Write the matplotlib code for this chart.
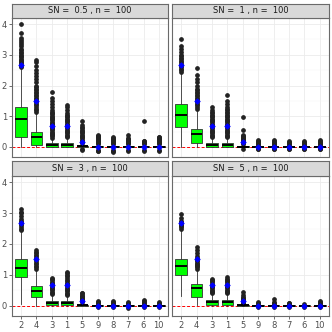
import matplotlib
matplotlib.use("Agg")
import matplotlib.pyplot as plt
from matplotlib.ticker import MultipleLocator

categories = ["2", "4", "3", "1", "5", "9", "8", "7", "6", "10"]
true_values = [2.67, 1.5, 0.67, 0.67, 0.17, 0, 0, 0, 0, 0]
panel_titles = ["SN =  0.5 , n =  100", "SN =  1 , n =  100",
                "SN =  3 , n =  100", "SN =  5 , n =  100"]

# box stats per panel: (q1, median, q3, whisker_low, whisker_high)
stats_sn05 = [(0.32, 0.91, 1.31, 0.0, 2.55), (0.05, 0.33, 0.48, 0.0, 1.1),
              (0.0, 0.05, 0.12, 0.0, 0.28), (0.0, 0.06, 0.13, 0.0, 0.30),
              (-0.01, 0.02, 0.04, -0.05, 0.10), (-0.02, 0.0, 0.02, -0.07, 0.08),
              (-0.02, 0.0, 0.02, -0.07, 0.08), (-0.02, 0.0, 0.02, -0.07, 0.08),
              (-0.02, 0.0, 0.02, -0.06, 0.07), (-0.02, 0.0, 0.02, -0.07, 0.08)]
stats_sn1 = [(0.64, 1.05, 1.40, 0.0, 2.4), (0.12, 0.41, 0.57, 0.0, 1.2),
             (0.0, 0.07, 0.12, 0.0, 0.30), (0.0, 0.07, 0.12, 0.0, 0.30),
             (-0.01, 0.01, 0.03, -0.04, 0.08), (-0.01, 0.0, 0.01, -0.04, 0.05),
             (-0.01, 0.0, 0.01, -0.04, 0.05), (-0.01, 0.0, 0.01, -0.04, 0.05),
             (-0.01, 0.0, 0.01, -0.04, 0.05), (-0.01, 0.0, 0.01, -0.04, 0.05)]
stats_sn3 = [(0.92, 1.23, 1.51, 0.05, 2.4), (0.29, 0.49, 0.65, 0.0, 1.15),
             (0.02, 0.10, 0.16, 0.0, 0.36), (0.02, 0.09, 0.14, 0.0, 0.33),
             (0.0, 0.02, 0.04, -0.02, 0.10), (-0.01, 0.0, 0.01, -0.03, 0.04),
             (-0.01, 0.0, 0.01, -0.03, 0.04), (-0.01, 0.0, 0.01, -0.03, 0.04),
             (-0.01, 0.0, 0.01, -0.03, 0.04), (-0.01, 0.0, 0.01, -0.03, 0.04)]
stats_sn5 = [(1.0, 1.29, 1.51, 0.31, 2.45), (0.30, 0.56, 0.69, 0.02, 1.15),
             (0.04, 0.12, 0.18, 0.0, 0.38), (0.04, 0.12, 0.18, 0.0, 0.38),
             (0.0, 0.01, 0.02, -0.01, 0.05), (-0.01, 0.0, 0.01, -0.02, 0.03),
             (-0.01, 0.0, 0.01, -0.02, 0.03), (-0.01, 0.0, 0.01, -0.02, 0.03),
             (-0.01, 0.0, 0.01, -0.02, 0.03), (-0.01, 0.0, 0.01, -0.02, 0.03)]

# outliers per box
fliers_sn05 = [
    [2.6, 2.64, 2.68, 2.72, 2.76, 2.8, 2.84, 2.88, 2.92, 2.96, 3.0, 3.05, 3.1, 3.15, 3.2, 3.28, 3.35, 3.42, 3.48, 3.55, 3.72, 4.02],
    [1.15, 1.2, 1.25, 1.3, 1.35, 1.4, 1.45, 1.5, 1.55, 1.6, 1.65, 1.7, 1.75, 1.8, 1.85, 1.9, 1.95, 2.0, 2.1, 2.2, 2.3, 2.4, 2.5, 2.65, 2.75, 2.83],
    [0.3, 0.34, 0.38, 0.42, 0.46, 0.5, 0.54, 0.58, 0.62, 0.66, 0.7, 0.74, 0.78, 0.82, 0.86, 0.9, 0.94, 0.98, 1.02, 1.06, 1.1, 1.15, 1.2, 1.3, 1.4, 1.5, 1.6, 1.78],
    [0.32, 0.36, 0.4, 0.44, 0.48, 0.52, 0.56, 0.6, 0.64, 0.68, 0.72, 0.76, 0.8, 0.84, 0.88, 0.92, 0.96, 1.0, 1.05, 1.1, 1.2, 1.3, 1.36],
    [-0.08, -0.1, 0.12, 0.16, 0.2, 0.24, 0.28, 0.32, 0.36, 0.4, 0.44, 0.48, 0.52, 0.56, 0.6, 0.64, 0.7, 0.85],
    [-0.1, -0.13, -0.15, 0.1, 0.13, 0.16, 0.19, 0.22, 0.25, 0.28, 0.31, 0.34, 0.37, 0.4],
    [-0.1, -0.13, -0.16, 0.1, 0.13, 0.16, 0.19, 0.22, 0.25, 0.28, 0.32],
    [-0.1, -0.13, 0.1, 0.13, 0.16, 0.19, 0.22, 0.25, 0.3, 0.38],
    [-0.09, -0.12, 0.09, 0.12, 0.15, 0.18, 0.2, 0.84],
    [-0.1, -0.13, 0.1, 0.13, 0.16, 0.19, 0.22, 0.25, 0.28, 0.31, 0.33],
]
fliers_sn1 = [
    [2.45, 2.5, 2.55, 2.6, 2.65, 2.7, 2.75, 2.8, 2.85, 2.9, 2.95, 3.0, 3.1, 3.2, 3.3, 3.51],
    [1.25, 1.3, 1.35, 1.4, 1.45, 1.5, 1.55, 1.6, 1.65, 1.7, 1.75, 1.8, 1.85, 1.9, 2.0, 2.1, 2.2, 2.35, 2.56],
    [0.32, 0.36, 0.4, 0.44, 0.48, 0.52, 0.56, 0.6, 0.64, 0.68, 0.72, 0.76, 0.8, 0.84, 0.88, 0.92, 0.96, 1.0, 1.05, 1.1, 1.15, 1.2, 1.31],
    [0.32, 0.36, 0.4, 0.44, 0.48, 0.52, 0.56, 0.6, 0.64, 0.68, 0.72, 0.76, 0.8, 0.84, 0.88, 0.92, 0.96, 1.0, 1.05, 1.1, 1.15, 1.2, 1.25, 1.3, 1.4, 1.5, 1.69],
    [-0.06, 0.1, 0.13, 0.16, 0.19, 0.22, 0.25, 0.28, 0.31, 0.35, 0.4, 0.55, 0.96],
    [-0.06, -0.08, 0.07, 0.1, 0.13, 0.16, 0.19, 0.22],
    [-0.06, -0.08, 0.07, 0.1, 0.13, 0.16, 0.19, 0.22],
    [-0.06, -0.08, 0.07, 0.1, 0.13, 0.16, 0.2],
    [-0.06, -0.08, 0.07, 0.1, 0.13, 0.16, 0.19],
    [-0.06, -0.08, 0.07, 0.1, 0.13, 0.16, 0.19, 0.23],
]
fliers_sn3 = [
    [2.45, 2.5, 2.55, 2.6, 2.65, 2.7, 2.75, 2.8, 2.9, 3.0, 3.05, 3.13],
    [1.2, 1.25, 1.3, 1.35, 1.4, 1.45, 1.5, 1.55, 1.6, 1.65, 1.7, 1.75, 1.8],
    [0.38, 0.42, 0.46, 0.5, 0.54, 0.58, 0.62, 0.66, 0.7, 0.74, 0.78, 0.82, 0.86, 0.89],
    [0.35, 0.39, 0.43, 0.47, 0.51, 0.55, 0.59, 0.63, 0.67, 0.71, 0.75, 0.8, 0.85, 0.9, 0.95, 1.0, 1.05, 1.1],
    [0.12, 0.15, 0.18, 0.21, 0.24, 0.27, 0.3, 0.33, 0.36, 0.4, 0.43],
    [-0.05, 0.06, 0.09, 0.12, 0.15],
    [-0.05, 0.06, 0.09, 0.12, 0.15],
    [-0.06, 0.06, 0.09, 0.12],
    [-0.04, 0.06, 0.09, 0.12, 0.15, 0.18],
    [-0.04, 0.06, 0.09, 0.12],
]
fliers_sn5 = [
    [2.5, 2.54, 2.58, 2.62, 2.66, 2.7, 2.75, 2.85, 2.96],
    [1.2, 1.24, 1.28, 1.32, 1.36, 1.4, 1.44, 1.48, 1.52, 1.56, 1.6, 1.7, 1.8, 1.89],
    [0.4, 0.44, 0.48, 0.52, 0.56, 0.6, 0.64, 0.68, 0.72, 0.76, 0.8, 0.84, 0.88],
    [0.4, 0.44, 0.48, 0.52, 0.56, 0.6, 0.64, 0.68, 0.72, 0.76, 0.8, 0.84, 0.88, 0.92],
    [0.07, 0.1, 0.13, 0.16, 0.19, 0.22, 0.25, 0.3, 0.35, 0.45],
    [-0.04, 0.05, 0.08, 0.11],
    [-0.04, 0.05, 0.08, 0.11, 0.22],
    [-0.04, 0.05, 0.08, 0.1],
    [-0.03, 0.05],
    [-0.04, 0.05, 0.08, 0.11, 0.15],
]

all_stats = [stats_sn05, stats_sn1, stats_sn3, stats_sn5]
all_fliers = [fliers_sn05, fliers_sn1, fliers_sn3, fliers_sn5]

W = H = 332
fig = plt.figure(figsize=(3.32, 3.32), dpi=100)

def rect(x0, y0, x1, y1):
    return [x0 / W, 1 - y1 / H, (x1 - x0) / W, (y1 - y0) / H]

panel_rects = [rect(12, 18, 168, 157), rect(172, 18, 329, 157),
               rect(12, 176, 168, 316), rect(172, 176, 329, 316)]
strip_rects = [rect(12, 4, 168, 18), rect(172, 4, 329, 18),
               rect(12, 161, 168, 176), rect(172, 161, 329, 176)]

border_col = "#6a6a6a"
positions = list(range(1, len(categories) + 1))

for i in range(4):
    ax = fig.add_axes(panel_rects[i])
    bstats = []
    for (q1, med, q3, wlo, whi), fl in zip(all_stats[i], all_fliers[i]):
        bstats.append(dict(q1=q1, med=med, q3=q3, whislo=wlo, whishi=whi,
                           fliers=fl))
    ax.axhline(0, color="red", linestyle=(0, (3, 2)), linewidth=0.7, zorder=1)
    ax.bxp(bstats, positions=positions, widths=0.75, patch_artist=True,
           showcaps=False,
           boxprops=dict(facecolor="#00FF00", edgecolor="#333333", linewidth=0.6),
           medianprops=dict(color="black", linewidth=1.4),
           whiskerprops=dict(color="#333333", linewidth=0.6),
           flierprops=dict(marker="o", markerfacecolor="#222222",
                           markeredgecolor="#222222", markersize=2.4,
                           linestyle="none"),
           zorder=2)
    ax.plot(positions, true_values, linestyle="none", marker="o",
            markersize=2.6, color="blue", zorder=4)
    ax.plot(positions, true_values, linestyle="none", marker="+",
            markersize=4.5, markeredgewidth=0.9, color="blue", zorder=4)
    ax.set_xlim(0.4, 10.6)
    ax.set_ylim(-0.33, 4.2)
    ax.yaxis.set_major_locator(MultipleLocator(1))
    ax.yaxis.set_minor_locator(MultipleLocator(0.5))
    ax.set_xticks(positions)
    ax.grid(True, which="major", color="#EBEBEB", linewidth=0.6, zorder=0)
    ax.grid(True, which="minor", axis="y", color="#F4F4F4", linewidth=0.35, zorder=0)
    ax.set_axisbelow(True)
    for s in ax.spines.values():
        s.set_color(border_col)
        s.set_linewidth(0.8)
    ax.tick_params(which="minor", length=0)
    ax.tick_params(which="major", length=2, width=0.5, color="#333333",
                   labelsize=6, labelcolor="#4D4D4D", pad=1.5)
    if i in (2, 3):
        ax.set_xticklabels(categories)
    else:
        ax.tick_params(axis="x", length=0, labelbottom=False)
    if i in (1, 3):
        ax.tick_params(axis="y", length=0, labelleft=False)

    sax = fig.add_axes(strip_rects[i])
    sax.set_facecolor("#D9D9D9")
    sax.set_xticks([])
    sax.set_yticks([])
    for s in sax.spines.values():
        s.set_color(border_col)
        s.set_linewidth(0.8)
    sax.text(0.5, 0.5, panel_titles[i], ha="center", va="center",
             fontsize=6.0, color="#1A1A1A", transform=sax.transAxes)

fig.savefig("out.png", dpi=100, facecolor="white")
